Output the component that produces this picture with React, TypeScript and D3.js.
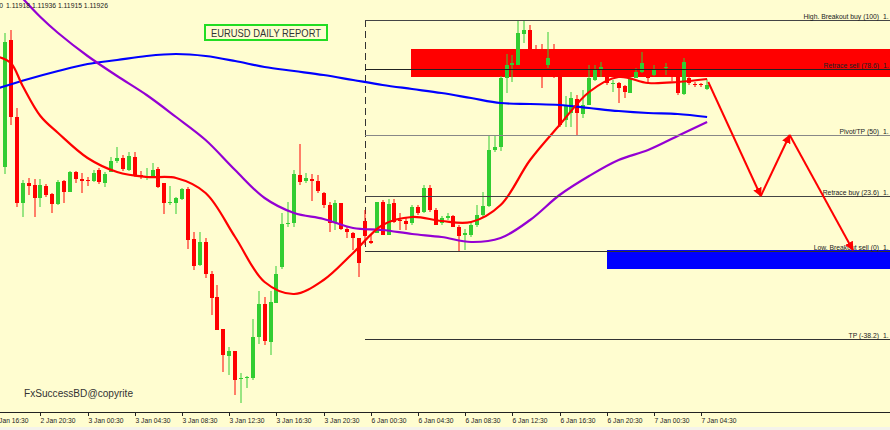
import * as d3 from "d3";
import { useEffect, useRef } from "react";

// EURUSD M30 candles, 2 Jan 17:30 .. 7 Jan 05:00
const opens = [
  1.11761, 1.12015, 1.11861, 1.11689, 1.11729, 1.11725, 1.11699, 1.11723, 1.11707, 1.11687,
  1.11733, 1.11711, 1.11751, 1.11737, 1.11735, 1.11733, 1.11755, 1.11729, 1.11751, 1.11773,
  1.11779, 1.11755, 1.11781, 1.11745, 1.11739, 1.11743, 1.11757, 1.11729, 1.11689, 1.11689,
  1.11697, 1.11717, 1.11617, 1.11565, 1.11611, 1.11547, 1.11501, 1.11437, 1.11383, 1.11393,
  1.11337, 1.11339, 1.11339, 1.11421, 1.11487, 1.11411, 1.11489, 1.11561, 1.11647, 1.11649,
  1.11745, 1.11733, 1.11737, 1.11733, 1.11709, 1.11685, 1.11649, 1.11689, 1.11637, 1.11629,
  1.11619, 1.11653, 1.11613, 1.11629, 1.11691, 1.11625, 1.11689, 1.11655, 1.11653, 1.11649,
  1.11681, 1.11671, 1.11719, 1.11675, 1.11649, 1.11659, 1.11663, 1.11641, 1.11625, 1.11625,
  1.11645, 1.11665, 1.11683, 1.11795, 1.11801, 1.11939, 1.11965, 1.11965, 1.12027, 1.12035,
  1.11997, 1.11997, 1.11965, 1.11997, 1.11945, 1.11855, 1.11869, 1.11897, 1.11867, 1.11885,
  1.11935, 1.11957, 1.11941, 1.11927, 1.11929, 1.11923, 1.11909, 1.11939, 1.11951, 1.11941,
  1.11945, 1.11955, 1.11959, 1.11945, 1.11941, 1.11907, 1.11939, 1.11927, 1.11927, 1.11918,
];
const highs = [
  1.12029, 1.12035, 1.11879, 1.11735, 1.11739, 1.11737, 1.11737, 1.11727, 1.11709, 1.11735,
  1.11735, 1.11753, 1.11753, 1.11749, 1.11741, 1.11755, 1.11759, 1.11751, 1.11781, 1.11801,
  1.11785, 1.11791, 1.11791, 1.11753, 1.11759, 1.11769, 1.11761, 1.11729, 1.11723, 1.11701,
  1.11719, 1.11721, 1.11631, 1.11631, 1.11619, 1.11553, 1.11525, 1.11437, 1.11401, 1.11393,
  1.11349, 1.11343, 1.11457, 1.11513, 1.11501, 1.11513, 1.11563, 1.11669, 1.11691, 1.11755,
  1.11807, 1.11749, 1.11747, 1.11745, 1.11711, 1.11691, 1.11695, 1.11689, 1.11641, 1.11631,
  1.11619, 1.11675, 1.11627, 1.11691, 1.11695, 1.11697, 1.11697, 1.11669, 1.11661, 1.11685,
  1.11685, 1.11725, 1.11725, 1.11679, 1.11663, 1.11669, 1.11665, 1.11645, 1.11637, 1.11651,
  1.11685, 1.11711, 1.11823, 1.11823, 1.11943, 1.11987, 1.11985, 1.12053, 1.12053, 1.12045,
  1.12005, 1.12007, 1.12031, 1.12007, 1.11955, 1.11903, 1.11911, 1.11905, 1.11915, 1.11965,
  1.11965, 1.11971, 1.11945, 1.11935, 1.11931, 1.11925, 1.11941, 1.11959, 1.11991, 1.11945,
  1.11965, 1.11963, 1.11969, 1.11949, 1.11945, 1.11979, 1.11951, 1.11931, 1.11929, 1.11936,
];
const lows = [
  1.11747, 1.11845, 1.11681, 1.11661, 1.11705, 1.11661, 1.11681, 1.11701, 1.11669, 1.11685,
  1.11689, 1.11711, 1.11729, 1.11709, 1.11723, 1.11731, 1.11727, 1.11721, 1.11751, 1.11769,
  1.11753, 1.11753, 1.11741, 1.11737, 1.11735, 1.11741, 1.11719, 1.11667, 1.11685, 1.11667,
  1.11695, 1.11597, 1.11555, 1.11563, 1.11539, 1.11465, 1.11435, 1.11351, 1.11345, 1.11305,
  1.11289, 1.11319, 1.11335, 1.11407, 1.11405, 1.11385, 1.11489, 1.11557, 1.11641, 1.11641,
  1.11725, 1.11729, 1.11693, 1.11709, 1.11679, 1.11631, 1.11635, 1.11635, 1.11619, 1.11595,
  1.11541, 1.11605, 1.11607, 1.11629, 1.11625, 1.11625, 1.11649, 1.11635, 1.11635, 1.11645,
  1.11665, 1.11669, 1.11671, 1.11645, 1.11645, 1.11655, 1.11641, 1.11593, 1.11595, 1.11621,
  1.11641, 1.11661, 1.11681, 1.11791, 1.11793, 1.11909, 1.11931, 1.11965, 1.12009, 1.11997,
  1.11995, 1.11919, 1.11959, 1.11939, 1.11841, 1.11841, 1.11841, 1.11823, 1.11859, 1.11885,
  1.11933, 1.11941, 1.11925, 1.11911, 1.11889, 1.11899, 1.11909, 1.11939, 1.11949, 1.11931,
  1.11943, 1.11943, 1.11945, 1.11933, 1.11905, 1.11905, 1.11925, 1.11921, 1.11921, 1.11915,
];
const closes = [
  1.12011, 1.11861, 1.11689, 1.11729, 1.11723, 1.11699, 1.11725, 1.11705, 1.11687, 1.11731,
  1.11711, 1.11751, 1.11737, 1.11733, 1.11733, 1.11749, 1.11731, 1.11747, 1.11773, 1.11779,
  1.11757, 1.11783, 1.11745, 1.11741, 1.11741, 1.11755, 1.11721, 1.11689, 1.11691, 1.11699,
  1.11717, 1.11615, 1.11563, 1.11611, 1.11547, 1.11499, 1.11435, 1.11385, 1.11393, 1.11335,
  1.11339, 1.11341, 1.11421, 1.11487, 1.11413, 1.11491, 1.11547, 1.11647, 1.11649, 1.11747,
  1.11731, 1.11739, 1.11733, 1.11713, 1.11685, 1.11649, 1.11689, 1.11637, 1.11631, 1.11619,
  1.11569, 1.11623, 1.11609, 1.11691, 1.11625, 1.11687, 1.11651, 1.11653, 1.11647, 1.11681,
  1.11669, 1.11719, 1.11675, 1.11645, 1.11659, 1.11663, 1.11641, 1.11623, 1.11629, 1.11645,
  1.11665, 1.11683, 1.11795, 1.11801, 1.11939, 1.11965, 1.11969, 1.12029, 1.12035, 1.11997,
  1.11995, 1.11995, 1.11979, 1.11995, 1.11845, 1.11885, 1.11899, 1.11869, 1.11885, 1.11939,
  1.11955, 1.11961, 1.11929, 1.11929, 1.11919, 1.11911, 1.11937, 1.11951, 1.11969, 1.11939,
  1.11955, 1.11945, 1.11961, 1.11941, 1.11909, 1.11971, 1.11929, 1.11925, 1.11925, 1.11926,
];

// moving averages, read at candle positions
const fastIdx = [-1, 1, 3, 6, 9, 14, 19, 24, 29, 34, 39, 44, 49, 54, 59, 64, 69, 74, 79, 84, 89, 94, 99, 104, 109, 114, 119];
const fastMa = [
  1.11981, 1.11969, 1.11923, 1.11863, 1.11829, 1.11779, 1.11751, 1.11741, 1.11739, 1.11709,
  1.11621, 1.11531, 1.11507, 1.11535, 1.11589, 1.11645, 1.11661, 1.11653, 1.11651, 1.11685,
  1.11775, 1.11845, 1.11911, 1.11941, 1.11929, 1.11931, 1.11937,
];
const midIdx = [2, 6, 9, 14, 19, 24, 29, 34, 39, 44, 49, 54, 59, 64, 69, 74, 79, 84, 89, 94, 99, 104, 109, 114, 119];
const midMa = [
  1.12111, 1.12061, 1.12029, 1.11983, 1.11943, 1.11905, 1.11861, 1.11815, 1.11755, 1.11699,
  1.11669, 1.11657, 1.11639, 1.11635, 1.11627, 1.11621, 1.11611, 1.11619, 1.11655, 1.11705,
  1.11743, 1.11775, 1.11795, 1.11823, 1.11851,
];
const slowIdx = [-1, 4, 9, 14, 19, 24, 29, 34, 39, 44, 49, 54, 59, 64, 69, 74, 79, 84, 89, 94, 99, 104, 109, 114, 119];
const slowMa = [
  1.11919, 1.11937, 1.11953, 1.11967, 1.11975, 1.11983, 1.11987, 1.11983, 1.11973, 1.11961,
  1.11953, 1.11945, 1.11935, 1.11925, 1.11917, 1.11909, 1.11899, 1.11889, 1.11887, 1.11885,
  1.11879, 1.11873, 1.11869, 1.11867, 1.11861,
];

// fibonacci levels
const fibNames = ["High. Breakout buy (100)", "Retrace sell (78.6)", "Pivot/TP (50)", "Retrace buy (23.6)", "Low. Breakout sell (0)", "TP (-38.2)"];
const fibPrices = [1.12055, 1.11957, 1.11825, 1.11703, 1.11594, 1.11417];
const fibStart = 61;

// zones
const sellZone = [1.11997, 1.11941];
const sellZoneStart = 69;
const buyZone = [1.11595, 1.11557];
const buyZoneStart = 102;

// projected path
const pathIdx = [119.2, 128.1, 133, 143.7];
const pathPrice = [1.11931, 1.11703, 1.11825, 1.11595];

// time axis
const tickIdx = [-2, 6, 14, 22, 30, 38, 46, 54, 62, 70, 78, 86, 94, 102, 110, 118];
const tickLabels = [
  "2 Jan 16:30", "2 Jan 20:30", "3 Jan 00:30", "3 Jan 04:30", "3 Jan 08:30", "3 Jan 12:30",
  "3 Jan 16:30", "3 Jan 20:30", "6 Jan 00:30", "6 Jan 04:30", "6 Jan 08:30", "6 Jan 12:30",
  "6 Jan 16:30", "6 Jan 20:30", "7 Jan 00:30", "7 Jan 04:30",
];
const quote = ["1.11918", "1.11936", "1.11915", "1.11926"];

function draw(node: SVGSVGElement) {
  const width = 890;
  const height = 430;
  const axisY = 412;
  const font = "'Liberation Sans', Arial, sans-serif";
  const up = "#32cd32";
  const down = "#ff0000";

  const x = d3.scaleLinear().domain([0, 100]).range([5, 595]);
  const y = d3.scaleLinear().domain([1.11271, 1.12095]).range([axisY, 0]);

  const svg = d3.select(node);
  svg.selectAll("*").remove();

  svg.append("rect").attr("width", width).attr("height", height).attr("fill", "#fffdd0");
  svg.append("rect").attr("y", 427).attr("width", width).attr("height", 3).attr("fill", "#f4f3ea");

  // zones
  svg.append("rect")
    .attr("x", Math.round(x(sellZoneStart)) - 1)
    .attr("y", y(sellZone[0]))
    .attr("width", width - Math.round(x(sellZoneStart)) + 1)
    .attr("height", y(sellZone[1]) - y(sellZone[0]))
    .attr("fill", "#ff0000");
  svg.append("rect")
    .attr("x", Math.round(x(buyZoneStart)))
    .attr("y", y(buyZone[0]))
    .attr("width", width - Math.round(x(buyZoneStart)))
    .attr("height", y(buyZone[1]) - y(buyZone[0]))
    .attr("fill", "#0000ff");

  // dashed range marker
  svg.append("line")
    .attr("x1", Math.round(x(fibStart)) + 0.5).attr("x2", Math.round(x(fibStart)) + 0.5)
    .attr("y1", y(fibPrices[0])).attr("y2", y(fibPrices[4]))
    .attr("stroke", "#333").attr("stroke-dasharray", "7,4");

  // candles
  const candles = svg.append("g");
  opens.forEach((o, i) => {
    const cx = Math.round(x(i));
    const c = closes[i];
    const col = c >= o ? up : down;
    candles.append("line")
      .attr("x1", cx).attr("x2", cx)
      .attr("y1", y(highs[i])).attr("y2", y(lows[i]))
      .attr("stroke", col).attr("stroke-width", 1);
    const top = y(Math.max(o, c));
    const h = Math.max(1, y(Math.min(o, c)) - top);
    candles.append("rect")
      .attr("x", cx - 2).attr("y", top)
      .attr("width", 4).attr("height", h)
      .attr("fill", col)
      .attr("shape-rendering", "crispEdges");
  });

  // moving averages
  const ma = (idx: number[], vals: number[], color: string) => {
    const line = d3.line<number>()
      .x((_, k) => x(idx[k]))
      .y((v) => y(v))
      .curve(d3.curveCatmullRom);
    svg.append("path")
      .attr("d", line(vals) ?? "")
      .attr("fill", "none")
      .attr("stroke", color)
      .attr("stroke-width", 2.2);
  };
  ma(slowIdx, slowMa, "#0000ff");
  ma(midIdx, midMa, "#9400d3");
  ma(fastIdx, fastMa, "#ff0000");

  // fib lines and labels (price runs off the right edge, only "1." shows)
  const fibColors = ["#444", "#222", "#888", "#444", "#333", "#333"];
  const fmt = d3.format(".5f");
  fibPrices.forEach((p, k) => {
    const ly = Math.round(y(p)) + 0.5;
    svg.append("line")
      .attr("x1", Math.round(x(fibStart))).attr("x2", width)
      .attr("y1", ly).attr("y2", ly)
      .attr("stroke", fibColors[k]);
    svg.append("text")
      .attr("x", 879).attr("y", ly - 2)
      .attr("text-anchor", "end")
      .attr("font-family", font).attr("font-size", 6.8)
      .attr("fill", "#222")
      .text(fibNames[k]);
    svg.append("text")
      .attr("x", 883).attr("y", ly - 2)
      .attr("font-family", font).attr("font-size", 6.8)
      .attr("fill", "#222")
      .text(fmt(p).slice(0, 2));
  });

  // arrows
  const defs = svg.append("defs");
  defs.append("marker")
    .attr("id", "ah")
    .attr("viewBox", "0 0 10 10")
    .attr("refX", 9).attr("refY", 5)
    .attr("markerWidth", 4.5).attr("markerHeight", 4.5)
    .attr("orient", "auto")
    .append("path").attr("d", "M0,0L10,5L0,10Z").attr("fill", "#ff0000");
  for (let k = 0; k < pathIdx.length - 1; k++) {
    svg.append("line")
      .attr("x1", x(pathIdx[k])).attr("y1", y(pathPrice[k]))
      .attr("x2", x(pathIdx[k + 1])).attr("y2", y(pathPrice[k + 1]))
      .attr("stroke", "#ff0000").attr("stroke-width", 2)
      .attr("marker-end", "url(#ah)");
  }

  // time axis
  svg.append("line")
    .attr("x1", 0).attr("x2", width)
    .attr("y1", axisY + 0.5).attr("y2", axisY + 0.5)
    .attr("stroke", "#222");
  tickIdx.forEach((t, k) => {
    const tx = Math.round(x(t)) + 0.5;
    svg.append("line")
      .attr("x1", tx).attr("x2", tx)
      .attr("y1", axisY).attr("y2", axisY + 4)
      .attr("stroke", "#222");
    svg.append("text")
      .attr("x", tx).attr("y", 423)
      .attr("font-family", font).attr("font-size", 6.7)
      .attr("fill", "#222")
      .text(tickLabels[k]);
  });

  // title box
  svg.append("rect")
    .attr("x", 205).attr("y", 25)
    .attr("width", 122).attr("height", 15)
    .attr("fill", "none").attr("stroke", "#22dd22").attr("stroke-width", 2);
  svg.append("text")
    .attr("x", 266).attr("y", 36.5)
    .attr("text-anchor", "middle")
    .attr("font-family", font).attr("font-size", 11)
    .attr("textLength", 110).attr("lengthAdjust", "spacingAndGlyphs")
    .attr("fill", "#333")
    .text("EURUSD DAILY REPORT");

  // header quote (symbol name runs off the left edge)
  svg.append("text")
    .attr("x", 3).attr("y", 8).attr("text-anchor", "end")
    .attr("font-family", font).attr("font-size", 6.8).attr("fill", "#222")
    .text("0");
  svg.append("text")
    .attr("x", 6).attr("y", 8)
    .attr("font-family", font).attr("font-size", 6.8).attr("fill", "#222")
    .text(quote.join(" "));

  svg.append("text")
    .attr("x", 24).attr("y", 397)
    .attr("font-family", font).attr("font-size", 10)
    .attr("textLength", 109).attr("lengthAdjust", "spacingAndGlyphs")
    .attr("fill", "#333")
    .text("FxSuccessBD@copyrite");
}

function App() {
  const ref = useRef<SVGSVGElement | null>(null);
  useEffect(() => {
    if (ref.current) draw(ref.current);
  }, []);
  return (
    <div>
      <style>{"body{margin:0}"}</style>
      <svg ref={ref} width={890} height={430} style={{ display: "block" }} />
    </div>
  );
}

export default App;
